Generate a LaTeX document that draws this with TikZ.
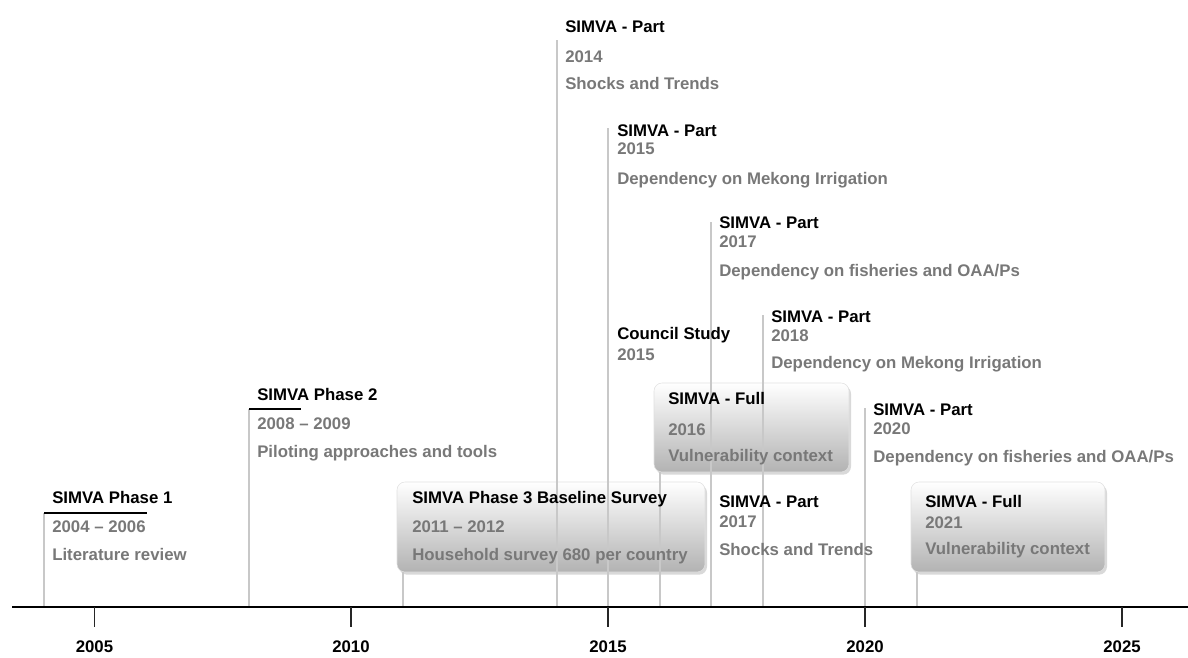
\documentclass[tikz,border=0pt]{standalone}
\usepackage{fontspec}
\setmainfont{Liberation Sans}
\usetikzlibrary{shadows}
\definecolor{txtgray}{RGB}{120,120,120}
\definecolor{linegray}{RGB}{200,200,200}
\newcommand{\evfont}{\fontsize{12.6}{15}\selectfont\bfseries}
\tikzset{
  vline/.style={draw=linegray, line width=0.8pt},
  ttl/.style={anchor=base west, inner sep=0pt, font=\evfont, text=black},
  sub/.style={anchor=base west, inner sep=0pt, font=\evfont, text=txtgray},
  yearlbl/.style={anchor=base, inner sep=0pt, font=\evfont, text=black},
  evbox/.style={rounded corners=6pt, draw=black!12, top color=white, bottom color=black!30,
    drop shadow={opacity=0.3, shadow xshift=1.5pt, shadow yshift=-2pt}, inner sep=0pt},
  bar/.style={draw=black, line width=1.9pt},
  axisline/.style={draw=black, line width=1.9pt},
  tickline/.style={draw=black!85, line width=1.1pt}
}
\begin{document}
\begin{tikzpicture}[x=0.75pt,y=-0.75pt]
\useasboundingbox (0,0) rectangle (1188,657);

% boxes
\node[evbox, minimum width=231pt, minimum height=67.5pt] (box3) at (551,527) {};
\node[evbox, minimum width=146.25pt, minimum height=66.75pt] (box16) at (751.5,427.5) {};
\node[evbox, minimum width=145.5pt, minimum height=67.5pt] (box21) at (1008,527) {};

% axis coordinates
\coordinate (ax0) at (12,607);
\coordinate (ax1) at (1188,607);
\foreach \yr/\xx in {2004/44,2008/249,2011/403,2014/557,2015/608,2016/660,2017/711,2018/763,2020/865,2021/917}{
  \coordinate (a\yr) at (\xx,607);
}
\coordinate (t2004) at (44,513);
\coordinate (t2008) at (249,409);
\coordinate (t2014) at (557,40);
\coordinate (t2015) at (608,128);
\coordinate (t2017) at (711,222);
\coordinate (t2018) at (763,315);
\coordinate (t2020) at (865,408);
\coordinate (e2006) at (147,513);
\coordinate (e2009) at (301,409);

% vertical lines
\draw[vline] (a2004) -- (t2004);
\draw[vline] (a2008) -- (t2008);
\draw[vline] (a2011) -- (a2011 |- box3.south);
\draw[vline] (a2014) -- (t2014);
\draw[vline] (a2015) -- (t2015);
\draw[vline] (a2015) -- (608,320);
\draw[vline] (a2016) -- (a2016 |- box16.south);
\draw[vline] (a2017) -- (t2017);
\draw[vline] (a2018) -- (t2018);
\draw[vline] (a2020) -- (t2020);
\draw[vline] (a2021) -- (a2021 |- box21.south);

% phase bars
\draw[bar] (t2004) -- (e2006);
\draw[bar] (t2008) -- (e2009);

% axis and ticks
\draw[axisline] (ax0) -- (ax1);
\foreach \yr/\xx in {2005/94.5,2010/351,2015/608,2020/865,2025/1122}{
  \coordinate (k\yr) at (\xx,607);
  \coordinate (kb\yr) at (\xx,627);
  \draw[tickline] (k\yr) -- (kb\yr);
  \node[yearlbl] (y\yr) at (\xx,652) {\yr};
}

% Phase 1
\node[ttl] (p1t) at (52,503) {SIMVA Phase 1};
\node[sub] (p1y) at (52,532) {2004 – 2006};
\node[sub] (p1d) at (52,560) {Literature review};
% Phase 2
\node[ttl] (p2t) at (257,400) {SIMVA Phase 2};
\node[sub] (p2y) at (257,429) {2008 – 2009};
\node[sub] (p2d) at (257,457) {Piloting approaches and tools};
% Phase 3
\node[ttl] (p3t) at (412,503) {SIMVA Phase 3 Baseline Survey};
\node[sub] (p3y) at (412,532) {2011 – 2012};
\node[sub] (p3d) at (412,560) {Household survey 680 per country};
% 2014
\node[ttl] (s14t) at (565,32) {SIMVA - Part};
\node[sub] (s14y) at (565,62) {2014};
\node[sub] (s14d) at (565,89) {Shocks and Trends};
% 2015
\node[ttl] (s15t) at (617,136) {SIMVA - Part};
\node[sub] (s15y) at (617,154) {2015};
\node[sub] (s15d) at (617,184) {Dependency on Mekong Irrigation};
% 2017 top
\node[ttl] (s17t) at (719,228) {SIMVA - Part};
\node[sub] (s17y) at (719,247) {2017};
\node[sub] (s17d) at (719,276) {Dependency on fisheries and OAA/Ps};
% Council study
\node[ttl] (cst) at (617,339) {Council Study};
\node[sub] (csy) at (617,360) {2015};
% 2018
\node[ttl] (s18t) at (771,322) {SIMVA - Part};
\node[sub] (s18y) at (771,341) {2018};
\node[sub] (s18d) at (771,368) {Dependency on Mekong Irrigation};
% 2016 full
\node[ttl] (f16t) at (668,404) {SIMVA - Full};
\node[sub] (f16y) at (668,435) {2016};
\node[sub] (f16d) at (668,461) {Vulnerability context};
% 2020
\node[ttl] (s20t) at (873,415) {SIMVA - Part};
\node[sub] (s20y) at (873,434) {2020};
\node[sub] (s20d) at (873,462) {Dependency on fisheries and OAA/Ps};
% 2017 lower
\node[ttl] (s17bt) at (719,507) {SIMVA - Part};
\node[sub] (s17by) at (719,527) {2017};
\node[sub] (s17bd) at (719,555) {Shocks and Trends};
% 2021 full
\node[ttl] (f21t) at (925,507) {SIMVA - Full};
\node[sub] (f21y) at (925,528) {2021};
\node[sub] (f21d) at (925,554) {Vulnerability context};
\end{tikzpicture}
\end{document}
